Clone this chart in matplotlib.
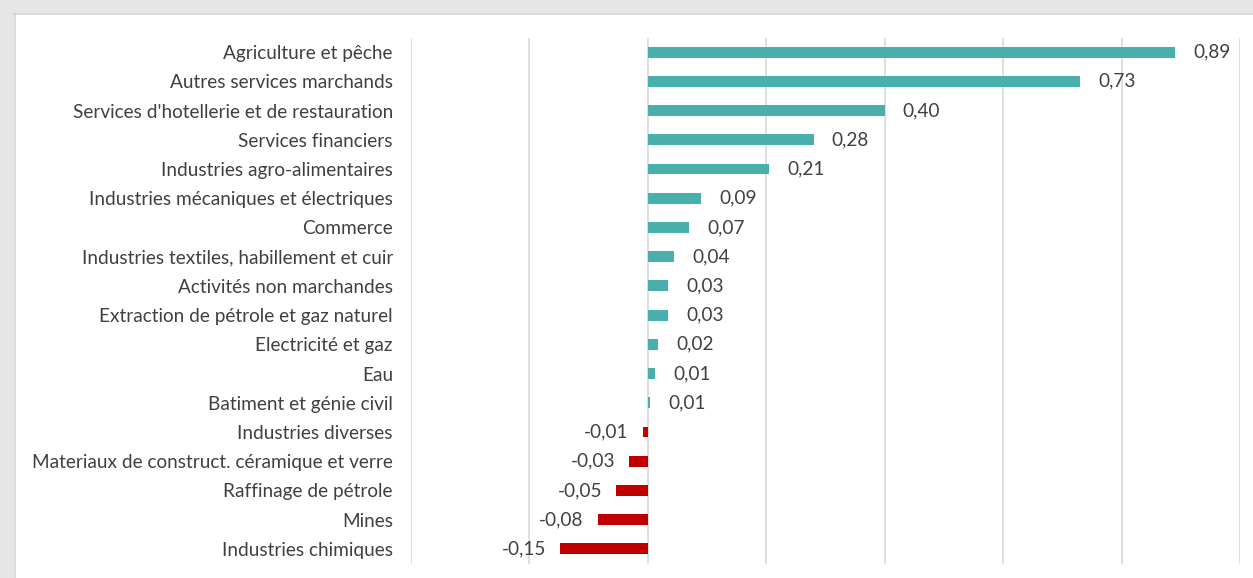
import matplotlib.pyplot as plt
from matplotlib.patches import Rectangle

categories = [
    "Agriculture et pêche",
    "Autres services marchands",
    "Services d'hotellerie et de restauration",
    "Services financiers",
    "Industries agro-alimentaires",
    "Industries mécaniques et électriques",
    "Commerce",
    "Industries textiles, habillement et cuir",
    "Activités non marchandes",
    "Extraction de pétrole et gaz naturel",
    "Electricité et gaz",
    "Eau",
    "Batiment et génie civil",
    "Industries diverses",
    "Materiaux de construct. céramique et verre",
    "Raffinage de pétrole",
    "Mines",
    "Industries chimiques",
]
# bar lengths as drawn (labels show rounded values)
bar_values = [0.89, 0.73, 0.40, 0.28, 0.205, 0.09, 0.07, 0.044, 0.034, 0.034,
              0.017, 0.012, 0.004, -0.009, -0.032, -0.053, -0.085, -0.148]
labels = ["0,89", "0,73", "0,40", "0,28", "0,21", "0,09", "0,07", "0,04", "0,03",
          "0,03", "0,02", "0,01", "0,01", "-0,01", "-0,03", "-0,05", "-0,08", "-0,15"]

POS = "#48AFAD"
NEG = "#C00000"
TXT = "#404040"
FONT = dict(family="Lato", weight="normal", fontsize=13.7, color=TXT)

W, H = 1253, 578
fig = plt.figure(figsize=(W / 100, H / 100), dpi=100)
fig.patch.set_facecolor("white")

# gray frame bands (top and left)
fig.patches.append(Rectangle((0, 1 - 13 / H), 1, 13 / H, transform=fig.transFigure,
                             facecolor="#e6e6e6", edgecolor="none", zorder=0))
fig.patches.append(Rectangle((0, 0), 14 / W, 1, transform=fig.transFigure,
                             facecolor="#e6e6e6", edgecolor="none", zorder=0))
fig.lines.append(plt.Line2D([14 / W, 1], [1 - 13.5 / H, 1 - 13.5 / H], transform=fig.transFigure,
                            color="#d4d4d4", lw=1.2))
fig.lines.append(plt.Line2D([14.5 / W, 14.5 / W], [0, 1 - 13.5 / H], transform=fig.transFigure,
                            color="#d4d4d4", lw=1.2))

left, right = 411, 1240
top, bottom = 37.5, 563.5
ax = fig.add_axes([left / W, 1 - bottom / H, (right - left) / W, (bottom - top) / H])
ax.set_facecolor("none")

n = len(categories)
ys = list(range(n))
colors = [POS if v >= 0 else NEG for v in bar_values]
ax.barh(ys, bar_values, height=0.37, color=colors, zorder=3)

ax.set_xlim(-0.4, 1.0)
ax.set_ylim(n - 0.5, -0.5)
ax.set_xticks([-0.4, -0.2, 0, 0.2, 0.4, 0.6, 0.8, 1.0])
ax.xaxis.grid(True, color="#d9d9d9", lw=1.2, zorder=0)
ax.tick_params(axis="x", length=0, labelbottom=False)
ax.tick_params(axis="y", length=0, pad=13)
ax.set_yticks(ys)
ax.set_yticklabels(categories, **FONT)
for s in ax.spines.values():
    s.set_visible(False)

for y, bv, lab in zip(ys, bar_values, labels):
    if bv >= 0:
        ax.annotate(lab, (bv, y), xytext=(13, 0), textcoords="offset points",
                    ha="left", va="center", **FONT)
    else:
        ax.annotate(lab, (bv, y), xytext=(-10, 0), textcoords="offset points",
                    ha="right", va="center", **FONT)

fig.savefig("out.png", dpi=100)
